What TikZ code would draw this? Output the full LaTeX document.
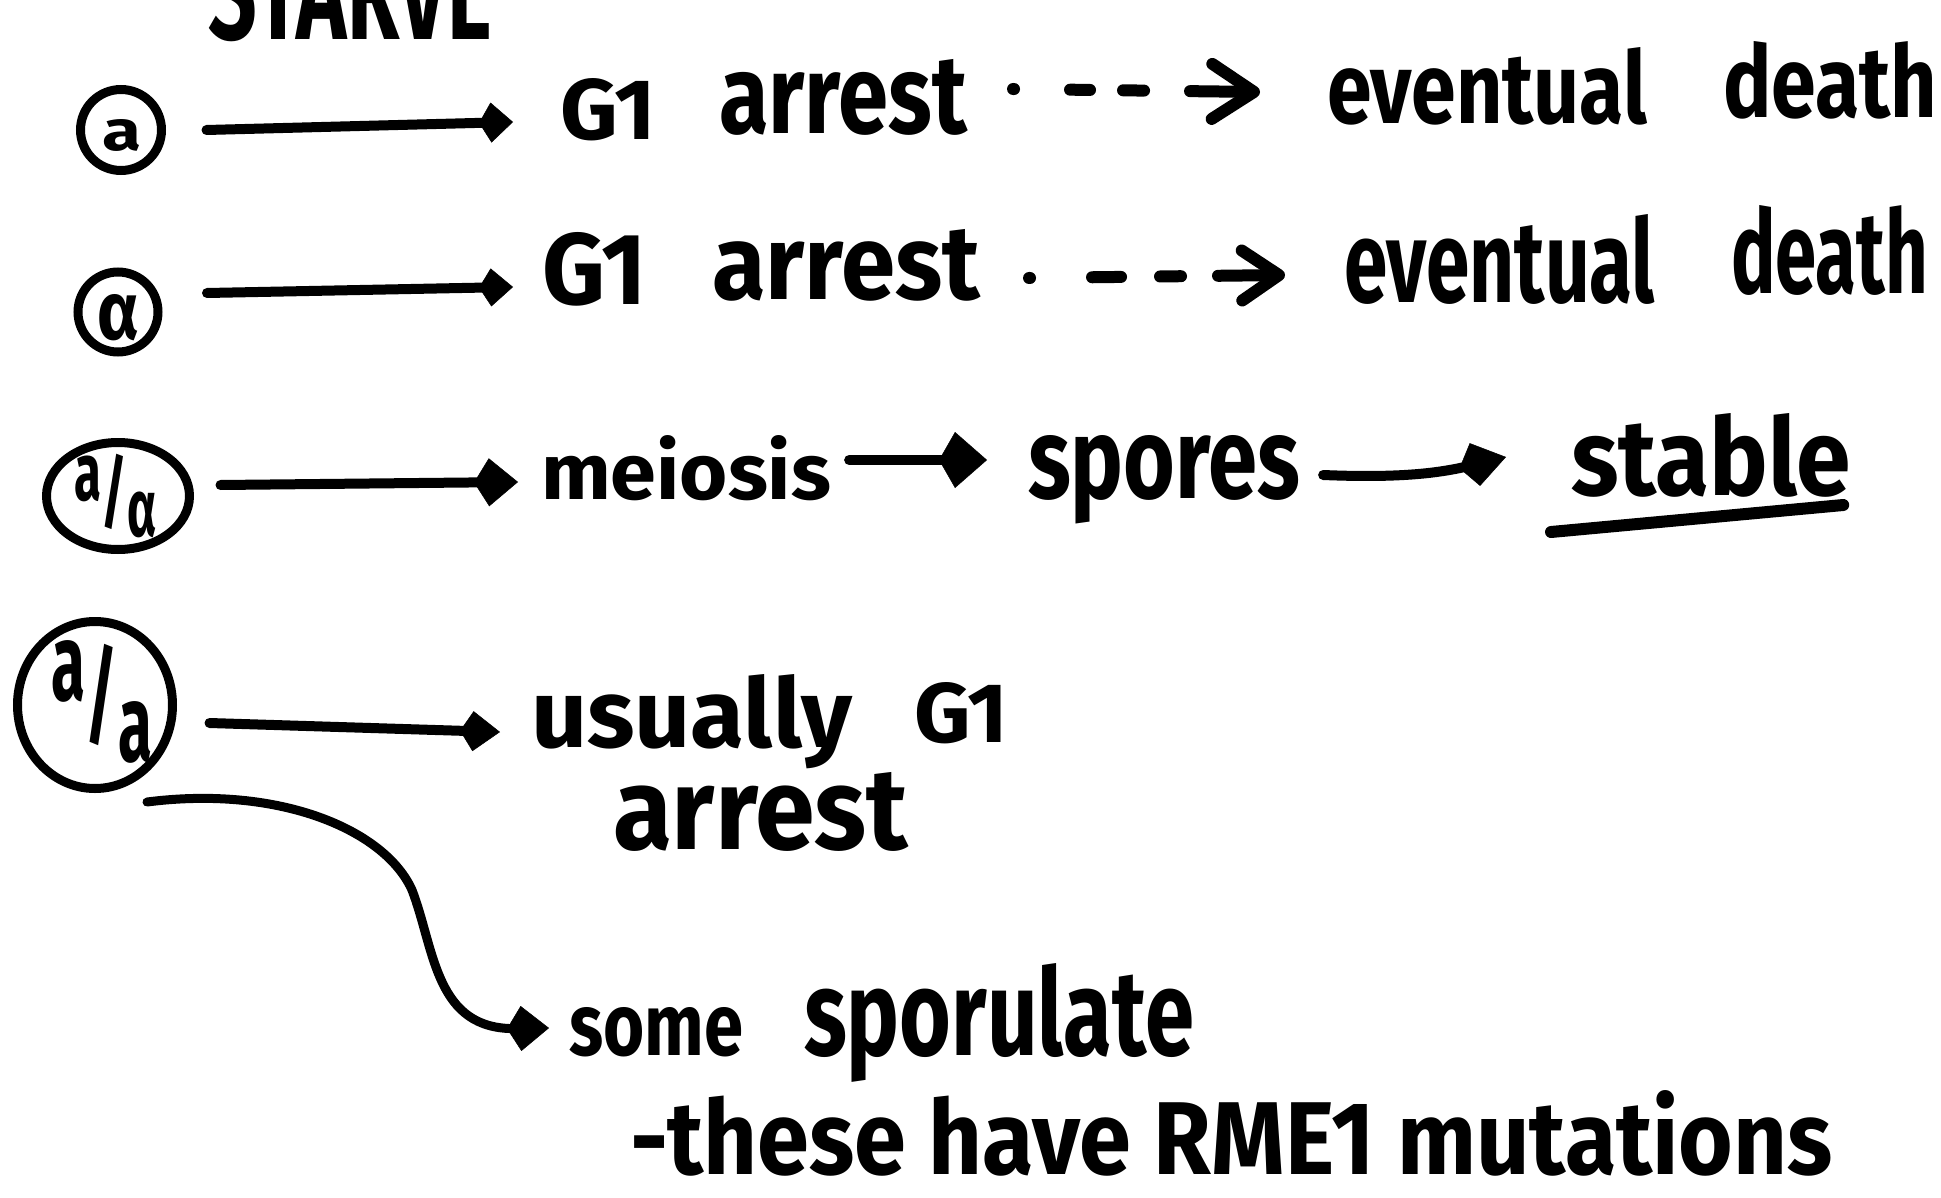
\documentclass[tikz,border=0pt]{standalone}
\usepackage{fontspec}
\setmainfont{Fira Sans}
\usetikzlibrary{arrows.meta,shapes.geometric}
\newcommand{\fw}[3]{\resizebox{#1pt}{#2pt}{\bfseries #3}}
\begin{document}
\begin{tikzpicture}[x=1pt,y=-1pt,
  every node/.style={inner sep=0pt,outer sep=0pt},
  word/.style={anchor=base west},
  ring/.style={draw,circle,line width=9pt},
  oval/.style={draw,ellipse,line width=9pt},
  arr/.style={line width=10pt,line cap=round},
  darr/.style={line width=12pt,line cap=round},
  ul/.style={line width=12pt,line cap=round}]
\fill[white] (0,0) rectangle (1941,1198);
\clip (0,0) rectangle (1941,1198);

% title (cut off at the top edge, as in the reference)
\node[word] (starve) at (208,40) {\fw{284}{96}{STARVE}};

% circles
\node[ring,minimum size=81pt] (ca) at (121,130) {};
\node (la) at (122,135) {\fw{39}{31}{a}};
\node[ring,minimum size=80pt] (cb) at (118,312) {};
\node (lb) at (119,318) {\fw{42}{45}{α}};
\node[oval,minimum width=143pt,minimum height=107pt] (cc) at (118,496) {};
\node (lc) at (116,496) {\resizebox*{82pt}{84pt}{\bfseries\raisebox{0.25em}{a}/\raisebox{-0.2em}{α}}};
\node[oval,minimum width=155pt,minimum height=167pt] (cd) at (95,705) {};
\node (ld) at (102,702) {\resizebox*{100pt}{122pt}{\bfseries\raisebox{0.3em}{a}/\raisebox{-0.25em}{a}}};

% row 1
\node[word] (g1a) at (560,140) {\fw{96}{61}{G1}};
\node[word] (arra) at (719,134) {\fw{248}{74}{arrest}};
\node[word] (eva) at (1327,124) {\fw{320}{76}{eventual}};
\node[word] (dea) at (1723,118) {\fw{214}{76}{death}};

% row 2
\node[word] (g1b) at (542,305) {\fw{105}{72}{G1}};
\node[word] (arrb) at (712,299) {\fw{268}{70}{arrest}};
\node[word] (evb) at (1344,303) {\fw{311}{88}{eventual}};
\node[word] (deb) at (1731,294) {\fw{197}{88}{death}};

% row 3
\node[word] (mei) at (541,499) {\fw{290}{64}{meiosis}};
\node[word] (spo) at (1028,498) {\fw{272}{63}{spores}};
\node[word] (sta) at (1571,495) {\fw{280}{82}{stable}};

% row 4
\node[word] (usu) at (531,747) {\fw{321}{73}{usually}};
\node[word] (g1c) at (914,742) {\fw{94}{60}{G1}};
\node[word] (arrc) at (613,849) {\fw{295}{77}{arrest}};
\node[word] (some) at (569,1055) {\fw{174}{48}{some}};
\node[word] (spor) at (804,1055) {\fw{390}{92}{sporulate}};
\node[word] (these) at (630,1174) {\fw{1202}{84}{-these have RME1 mutations}};

\coordinate (cs) at (147,802);

% solid arrows
\draw[arr,-{Kite[length=34pt,width=40pt,inset=12pt,line width=0.5pt]}]
  ([shift={(45,0)}]ca.east) -- ([shift={(-47,-18)}]g1a.base west);
\draw[arr,-{Kite[length=34pt,width=38pt,inset=12pt,line width=0.5pt]}]
  ([shift={(49,-19)}]cb.east) -- ([shift={(-29,-18)}]g1b.base west);
\draw[arr,-{Kite[length=44pt,width=48pt,inset=15pt,line width=0.5pt]}]
  ([shift={(31,-11)}]cc.east) -- ([shift={(-23,-17)}]mei.base west);
\draw[arr,-{Kite[length=48pt,width=56pt,inset=16pt,line width=0.5pt]}]
  ([shift={(18,-39)}]mei.base east) -- ([shift={(-41,-38)}]spo.base west);
\draw[arr,-{Kite[length=48pt,width=44pt,inset=16pt,line width=0.5pt]}]
  ([shift={(23,-23)}]spo.base east) to[bend right=8] ([shift={(-65,-38)}]sta.base west);
\draw[arr,-{Kite[length=40pt,width=40pt,inset=13pt,line width=0.5pt]}]
  ([shift={(37,18)}]cd.east) -- ([shift={(-31,-15)}]usu.base west);
\draw[line width=9pt,line cap=round,-{Kite[length=42pt,width=45pt,inset=14pt,line width=0.5pt]}]
  (cs) .. controls (280,785) and (385,830) .. (412,890)
       .. controls (435,950) and (435,1030) .. ([shift={(-20,-27)}]some.base west);

% dashed arrows
\draw[darr,dash pattern=on 1pt off 56pt on 20pt off 33pt on 21pt off 46pt on 300pt,
  -{Straight Barb[length=42pt,width=55pt,round]}]
  ([shift={(46,-45)}]arra.base east) -- ([shift={(-67,-32)}]eva.base west);
\draw[darr,dash pattern=on 1pt off 62pt on 29pt off 39pt on 21pt off 37pt on 300pt,
  -{Straight Barb[length=37pt,width=50pt,round]}]
  ([shift={(49,-21)}]arrb.base east) -- ([shift={(-59,-28)}]evb.base west);

% underline of "stable"
\draw[ul] ([shift={(-20,37)}]sta.base west) -- ([shift={(-8,10)}]sta.base east);
\end{tikzpicture}
\end{document}
